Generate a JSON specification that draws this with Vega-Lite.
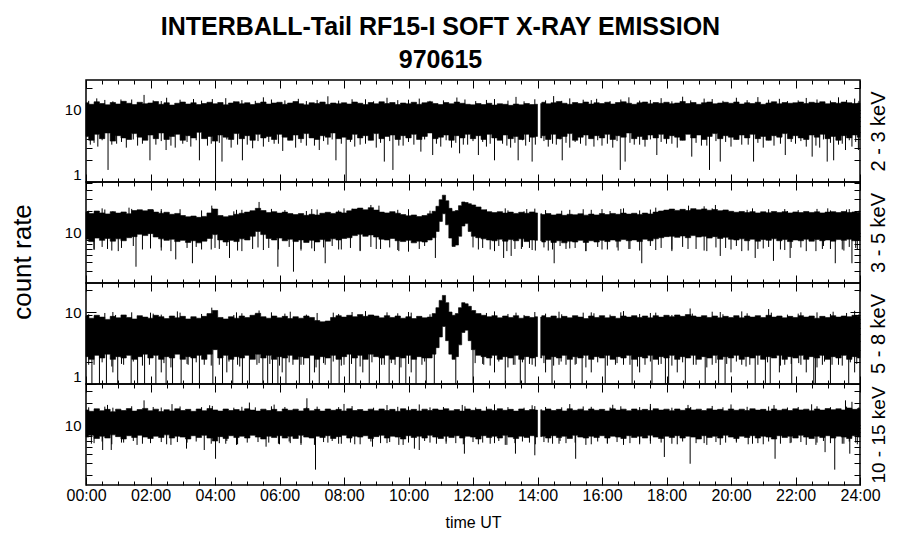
{
"$schema":"https://vega.github.io/schema/vega-lite/v6.json",
"background":"white",
"padding":{"left":8,"top":14,"right":5,"bottom":5},
"title":{"text":["INTERBALL-Tail RF15-I SOFT X-RAY EMISSION","970615"],"font":"Liberation Sans","fontSize":25,"fontWeight":"bold","lineHeight":33,"color":"black","anchor":"middle","offset":6,"dx":-8},
"spacing":0,
"bounds":"flush",
"resolve":{"scale":{"y":"independent"}},
"config":{"view":{"stroke":"black","strokeWidth":1.5},"axis":{"domain":false,"grid":false,"tickColor":"black","tickWidth":1,"labelColor":"black","titleColor":"black","labelFont":"Liberation Sans","titleFont":"Liberation Sans"}},
"datasets":{
"c1":[{"t":0,"h":12.6,"l":4.3,"g":1},{"t":10,"h":12.0,"l":3.8,"g":1},{"t":20,"h":13.0,"l":4.6,"g":1},{"t":30,"h":12.3,"l":4.0,"g":1},{"t":40,"h":11.8,"l":4.8,"g":1},{"t":50,"h":12.7,"l":3.7,"g":1},{"t":60,"h":12.1,"l":4.4,"g":1},{"t":70,"h":13.2,"l":4.1,"g":1},{"t":80,"h":12.4,"l":3.9,"g":1},{"t":90,"h":11.9,"l":4.7,"g":1},{"t":100,"h":12.8,"l":4.2,"g":1},{"t":110,"h":12.2,"l":3.8,"g":1},
{"t":120,"h":12.5,"l":4.5,"g":1},{"t":130,"h":13.1,"l":4.0,"g":1},{"t":140,"h":12.0,"l":4.8,"g":1},{"t":150,"h":12.6,"l":3.9,"g":1},{"t":160,"h":11.7,"l":4.3,"g":1},{"t":170,"h":12.4,"l":4.6,"g":1},{"t":180,"h":12.9,"l":3.8,"g":1},{"t":190,"h":12.1,"l":4.4,"g":1},{"t":200,"h":12.6,"l":4.1,"g":1},{"t":210,"h":11.9,"l":4.9,"g":1},{"t":220,"h":12.3,"l":4.0,"g":1},{"t":230,"h":12.8,"l":4.3,"g":1},
{"t":240,"h":12.2,"l":3.7,"g":1},{"t":250,"h":12.7,"l":4.5,"g":1},{"t":260,"h":11.8,"l":4.2,"g":1},{"t":270,"h":12.5,"l":3.9,"g":1},{"t":280,"h":13.0,"l":4.7,"g":1},{"t":290,"h":12.2,"l":4.0,"g":1},{"t":300,"h":12.6,"l":4.4,"g":1},{"t":310,"h":11.9,"l":3.8,"g":1},{"t":320,"h":12.4,"l":4.6,"g":1},{"t":330,"h":12.9,"l":4.1,"g":1},{"t":340,"h":12.1,"l":4.3,"g":1},{"t":350,"h":12.5,"l":3.9,"g":1},
{"t":360,"h":12.8,"l":4.6,"g":1},{"t":370,"h":12.0,"l":4.2,"g":1},{"t":380,"h":12.5,"l":3.8,"g":1},{"t":390,"h":13.1,"l":4.5,"g":1},{"t":400,"h":12.2,"l":4.0,"g":1},{"t":410,"h":11.8,"l":4.7,"g":1},{"t":420,"h":12.6,"l":4.1,"g":1},{"t":430,"h":12.3,"l":3.9,"g":1},{"t":440,"h":12.9,"l":4.4,"g":1},{"t":450,"h":12.0,"l":4.2,"g":1},{"t":460,"h":12.5,"l":4.8,"g":1},{"t":470,"h":12.2,"l":4.0,"g":1},
{"t":480,"h":12.6,"l":4.2,"g":1},{"t":490,"h":12.1,"l":3.9,"g":1},{"t":500,"h":12.9,"l":4.6,"g":1},{"t":510,"h":12.4,"l":4.1,"g":1},{"t":520,"h":11.9,"l":4.4,"g":1},{"t":530,"h":12.7,"l":3.8,"g":1},{"t":540,"h":12.2,"l":4.7,"g":1},{"t":550,"h":13.0,"l":4.0,"g":1},{"t":560,"h":12.3,"l":4.3,"g":1},{"t":570,"h":12.7,"l":4.5,"g":1},{"t":580,"h":11.9,"l":3.9,"g":1},{"t":590,"h":12.5,"l":4.4,"g":1},
{"t":600,"h":12.2,"l":4.1,"g":1},{"t":610,"h":12.8,"l":4.6,"g":1},{"t":620,"h":12.0,"l":3.9,"g":1},{"t":630,"h":12.6,"l":4.3,"g":1},{"t":640,"h":13.0,"l":4.8,"g":1},{"t":650,"h":12.3,"l":4.0,"g":1},{"t":660,"h":11.9,"l":4.2,"g":1},{"t":670,"h":12.7,"l":4.5,"g":1},{"t":680,"h":12.2,"l":3.8,"g":1},{"t":690,"h":12.9,"l":4.4,"g":1},{"t":700,"h":12.4,"l":4.1,"g":1},{"t":710,"h":12.0,"l":4.6,"g":1},
{"t":720,"h":11.8,"l":4.0,"g":1},{"t":730,"h":12.3,"l":4.4,"g":1},{"t":740,"h":11.9,"l":3.9,"g":1},{"t":750,"h":12.4,"l":4.6,"g":1},{"t":760,"h":11.7,"l":4.1,"g":1},{"t":770,"h":12.2,"l":3.8,"g":1},{"t":780,"h":12.0,"l":4.5,"g":1},{"t":790,"h":11.6,"l":4.0,"g":1},{"t":800,"h":12.1,"l":4.3,"g":1},{"t":810,"h":11.8,"l":3.9,"g":1},{"t":820,"h":12.3,"l":4.6,"g":1},{"t":830,"h":11.9,"l":4.2,"g":1},{"t":840,"h":12.0,"l":4.3,"g":1},
{"t":846,"h":12.3,"l":4.1,"g":2},{"t":850,"h":12.8,"l":4.4,"g":2},{"t":860,"h":12.2,"l":3.9,"g":2},{"t":870,"h":12.6,"l":4.6,"g":2},{"t":880,"h":13.1,"l":4.0,"g":2},{"t":890,"h":12.4,"l":4.3,"g":2},{"t":900,"h":12.0,"l":4.7,"g":2},{"t":910,"h":12.7,"l":3.8,"g":2},{"t":920,"h":12.3,"l":4.2,"g":2},{"t":930,"h":12.9,"l":4.5,"g":2},{"t":940,"h":12.1,"l":4.0,"g":2},{"t":950,"h":12.6,"l":4.4,"g":2},
{"t":960,"h":12.3,"l":4.1,"g":2},{"t":970,"h":12.8,"l":4.6,"g":2},{"t":980,"h":12.1,"l":3.9,"g":2},{"t":990,"h":12.7,"l":4.4,"g":2},{"t":1000,"h":13.0,"l":4.2,"g":2},{"t":1010,"h":12.4,"l":4.8,"g":2},{"t":1020,"h":12.0,"l":4.0,"g":2},{"t":1030,"h":12.6,"l":4.3,"g":2},{"t":1040,"h":12.9,"l":3.9,"g":2},{"t":1050,"h":12.2,"l":4.5,"g":2},{"t":1060,"h":12.7,"l":4.1,"g":2},{"t":1070,"h":12.4,"l":4.6,"g":2},
{"t":1080,"h":12.8,"l":4.0,"g":2},{"t":1090,"h":12.2,"l":4.4,"g":2},{"t":1100,"h":12.5,"l":4.2,"g":2},{"t":1110,"h":13.1,"l":3.8,"g":2},{"t":1120,"h":12.3,"l":4.6,"g":2},{"t":1130,"h":12.7,"l":4.1,"g":2},{"t":1140,"h":12.0,"l":4.5,"g":2},{"t":1150,"h":12.6,"l":3.9,"g":2},{"t":1160,"h":12.9,"l":4.3,"g":2},{"t":1170,"h":12.2,"l":4.7,"g":2},{"t":1180,"h":12.5,"l":4.0,"g":2},{"t":1190,"h":12.8,"l":4.4,"g":2},
{"t":1200,"h":12.4,"l":4.2,"g":2},{"t":1210,"h":12.9,"l":3.9,"g":2},{"t":1220,"h":12.1,"l":4.5,"g":2},{"t":1230,"h":12.6,"l":4.1,"g":2},{"t":1240,"h":12.3,"l":4.6,"g":2},{"t":1250,"h":12.8,"l":4.0,"g":2},{"t":1260,"h":12.0,"l":4.3,"g":2},{"t":1270,"h":12.5,"l":3.8,"g":2},{"t":1280,"h":13.0,"l":4.4,"g":2},{"t":1290,"h":12.2,"l":4.2,"g":2},{"t":1300,"h":12.7,"l":4.7,"g":2},{"t":1310,"h":12.4,"l":4.0,"g":2},
{"t":1320,"h":12.6,"l":4.4,"g":2},{"t":1330,"h":12.9,"l":4.1,"g":2},{"t":1340,"h":12.3,"l":3.9,"g":2},{"t":1350,"h":12.8,"l":4.5,"g":2},{"t":1360,"h":12.5,"l":4.2,"g":2},{"t":1370,"h":13.0,"l":4.6,"g":2},{"t":1380,"h":12.2,"l":4.0,"g":2},{"t":1390,"h":12.7,"l":4.3,"g":2},{"t":1400,"h":12.4,"l":3.8,"g":2},{"t":1410,"h":12.9,"l":4.4,"g":2},{"t":1420,"h":12.6,"l":4.1,"g":2},{"t":1430,"h":12.3,"l":4.5,"g":2},{"t":1440,"h":12.5,"l":4.2,"g":2}],
"c2":[{"t":0,"h":19.5,"l":8.2,"g":1},{"t":10,"h":18.6,"l":7.6,"g":1},{"t":20,"h":20.2,"l":8.5,"g":1},{"t":30,"h":19.0,"l":7.9,"g":1},{"t":40,"h":18.4,"l":8.4,"g":1},{"t":50,"h":19.8,"l":7.7,"g":1},{"t":60,"h":18.9,"l":8.3,"g":1},{"t":70,"h":19.6,"l":7.8,"g":1},{"t":80,"h":18.5,"l":8.6,"g":1},{"t":90,"h":20.5,"l":8.9,"g":1},{"t":100,"h":21.0,"l":9.6,"g":1},{"t":110,"h":20.3,"l":9.2,"g":1},
{"t":120,"h":21.2,"l":9.8,"g":1},{"t":130,"h":19.5,"l":8.8,"g":1},{"t":140,"h":18.8,"l":8.3,"g":1},{"t":150,"h":19.4,"l":7.9,"g":1},{"t":160,"h":18.2,"l":8.2,"g":1},{"t":170,"h":18.7,"l":7.6,"g":1},{"t":180,"h":17.5,"l":7.9,"g":1},{"t":190,"h":16.8,"l":7.4,"g":1},{"t":200,"h":17.2,"l":7.8,"g":1},{"t":210,"h":16.5,"l":7.3,"g":1},{"t":220,"h":17.0,"l":7.7,"g":1},{"t":230,"h":19.0,"l":8.4,"g":1},
{"t":240,"h":21.5,"l":9.5,"g":1},{"t":250,"h":17.5,"l":8.0,"g":1},{"t":260,"h":16.8,"l":7.5,"g":1},{"t":270,"h":17.4,"l":7.9,"g":1},{"t":280,"h":18.2,"l":7.6,"g":1},{"t":290,"h":18.8,"l":8.3,"g":1},{"t":300,"h":19.5,"l":8.0,"g":1},{"t":310,"h":20.4,"l":9.0,"g":1},{"t":320,"h":22.0,"l":10.5,"g":1},{"t":330,"h":20.5,"l":9.5,"g":1},{"t":340,"h":19.2,"l":8.4,"g":1},{"t":350,"h":19.8,"l":8.0,"g":1},
{"t":360,"h":18.9,"l":8.5,"g":1},{"t":370,"h":19.5,"l":7.8,"g":1},{"t":380,"h":18.6,"l":8.2,"g":1},{"t":390,"h":18.0,"l":7.6,"g":1},{"t":400,"h":18.6,"l":8.0,"g":1},{"t":410,"h":17.6,"l":7.4,"g":1},{"t":420,"h":18.2,"l":7.9,"g":1},{"t":430,"h":17.8,"l":7.5,"g":1},{"t":440,"h":18.8,"l":8.1,"g":1},{"t":450,"h":19.4,"l":7.7,"g":1},{"t":460,"h":18.7,"l":8.3,"g":1},{"t":470,"h":19.6,"l":8.0,"g":1},
{"t":480,"h":19.0,"l":8.4,"g":1},{"t":490,"h":20.3,"l":8.6,"g":1},{"t":500,"h":21.5,"l":9.2,"g":1},{"t":510,"h":22.2,"l":9.6,"g":1},{"t":520,"h":21.0,"l":9.0,"g":1},{"t":530,"h":22.5,"l":9.4,"g":1},{"t":540,"h":20.8,"l":8.8,"g":1},{"t":550,"h":19.5,"l":8.2,"g":1},{"t":560,"h":19.0,"l":8.0,"g":1},{"t":570,"h":19.8,"l":8.4,"g":1},{"t":580,"h":18.8,"l":7.8,"g":1},{"t":590,"h":18.0,"l":7.6,"g":1},
{"t":600,"h":17.3,"l":7.9,"g":1},{"t":610,"h":17.8,"l":7.3,"g":1},{"t":620,"h":16.9,"l":7.7,"g":1},{"t":630,"h":17.5,"l":7.5,"g":1},{"t":640,"h":18.5,"l":8.0,"g":1},{"t":648,"h":20.0,"l":8.6,"g":1},{"t":654,"h":23.5,"l":10.5,"g":1},{"t":660,"h":29.0,"l":14.5,"g":1},{"t":666,"h":33.5,"l":18.5,"g":1},{"t":672,"h":28.0,"l":13.0,"g":1},{"t":678,"h":22.0,"l":8.5,"g":1},{"t":684,"h":20.0,"l":6.5,"g":1},
{"t":690,"h":20.5,"l":6.8,"g":1},{"t":696,"h":24.0,"l":9.0,"g":1},{"t":702,"h":27.0,"l":12.5,"g":1},{"t":708,"h":26.5,"l":13.5,"g":1},{"t":714,"h":25.5,"l":10.5,"g":1},{"t":720,"h":24.5,"l":9.0,"g":1},{"t":730,"h":23.0,"l":8.6,"g":1},{"t":740,"h":21.0,"l":8.3,"g":1},{"t":750,"h":19.8,"l":8.0,"g":1},{"t":760,"h":19.2,"l":7.8,"g":1},{"t":770,"h":19.8,"l":8.2,"g":1},{"t":780,"h":18.9,"l":7.7,"g":1},
{"t":790,"h":19.5,"l":8.1,"g":1},{"t":800,"h":18.7,"l":7.8,"g":1},{"t":810,"h":19.4,"l":8.3,"g":1},{"t":820,"h":18.8,"l":7.6,"g":1},{"t":830,"h":19.6,"l":8.0,"g":1},{"t":840,"h":19.0,"l":7.9,"g":1},
{"t":846,"h":18.5,"l":7.8,"g":2},{"t":850,"h":18.0,"l":7.5,"g":2},{"t":860,"h":18.6,"l":7.9,"g":2},{"t":870,"h":17.8,"l":7.4,"g":2},{"t":880,"h":18.4,"l":7.8,"g":2},{"t":890,"h":17.6,"l":7.3,"g":2},{"t":900,"h":18.2,"l":7.7,"g":2},{"t":910,"h":17.9,"l":7.5,"g":2},{"t":920,"h":18.5,"l":7.9,"g":2},{"t":930,"h":17.7,"l":7.4,"g":2},{"t":940,"h":18.3,"l":7.8,"g":2},{"t":950,"h":17.8,"l":7.5,"g":2},
{"t":960,"h":18.6,"l":7.9,"g":2},{"t":970,"h":18.0,"l":7.6,"g":2},{"t":980,"h":18.7,"l":8.0,"g":2},{"t":990,"h":18.2,"l":7.7,"g":2},{"t":1000,"h":18.9,"l":8.1,"g":2},{"t":1010,"h":18.3,"l":7.8,"g":2},{"t":1020,"h":18.8,"l":8.0,"g":2},{"t":1030,"h":18.1,"l":7.6,"g":2},{"t":1040,"h":18.9,"l":8.2,"g":2},{"t":1050,"h":18.4,"l":7.8,"g":2},{"t":1060,"h":19.5,"l":8.3,"g":2},{"t":1070,"h":20.2,"l":8.6,"g":2},
{"t":1080,"h":20.8,"l":8.9,"g":2},{"t":1090,"h":21.5,"l":9.0,"g":2},{"t":1100,"h":20.6,"l":8.7,"g":2},{"t":1110,"h":21.3,"l":9.1,"g":2},{"t":1120,"h":20.5,"l":8.6,"g":2},{"t":1130,"h":21.8,"l":9.2,"g":2},{"t":1140,"h":21.0,"l":8.8,"g":2},{"t":1150,"h":21.6,"l":9.0,"g":2},{"t":1160,"h":20.7,"l":8.5,"g":2},{"t":1170,"h":21.2,"l":8.9,"g":2},{"t":1180,"h":20.4,"l":8.4,"g":2},{"t":1190,"h":20.9,"l":8.7,"g":2},
{"t":1200,"h":20.0,"l":8.2,"g":2},{"t":1210,"h":19.4,"l":8.0,"g":2},{"t":1220,"h":19.9,"l":8.3,"g":2},{"t":1230,"h":19.2,"l":7.8,"g":2},{"t":1240,"h":19.8,"l":8.2,"g":2},{"t":1250,"h":19.0,"l":7.7,"g":2},{"t":1260,"h":19.7,"l":8.1,"g":2},{"t":1270,"h":19.1,"l":7.9,"g":2},{"t":1280,"h":19.9,"l":8.3,"g":2},{"t":1290,"h":19.3,"l":7.8,"g":2},{"t":1300,"h":19.8,"l":8.1,"g":2},{"t":1310,"h":19.0,"l":7.6,"g":2},
{"t":1320,"h":19.6,"l":8.0,"g":2},{"t":1330,"h":19.2,"l":7.8,"g":2},{"t":1340,"h":19.9,"l":8.2,"g":2},{"t":1350,"h":19.3,"l":7.7,"g":2},{"t":1360,"h":19.7,"l":8.1,"g":2},{"t":1370,"h":19.0,"l":7.8,"g":2},{"t":1380,"h":19.5,"l":8.0,"g":2},{"t":1390,"h":19.8,"l":7.7,"g":2},{"t":1400,"h":19.2,"l":8.1,"g":2},{"t":1410,"h":19.9,"l":7.9,"g":2},{"t":1420,"h":19.3,"l":8.2,"g":2},{"t":1430,"h":19.6,"l":7.8,"g":2},{"t":1440,"h":19.2,"l":8.0,"g":2}],
"c3":[{"t":0,"h":8.8,"l":2.4,"g":1},{"t":10,"h":8.2,"l":2.2,"g":1},{"t":20,"h":9.0,"l":2.5,"g":1},{"t":30,"h":8.5,"l":2.3,"g":1},{"t":40,"h":7.9,"l":2.6,"g":1},{"t":50,"h":8.7,"l":2.2,"g":1},{"t":60,"h":8.3,"l":2.4,"g":1},{"t":70,"h":9.1,"l":2.3,"g":1},{"t":80,"h":8.4,"l":2.5,"g":1},{"t":90,"h":8.0,"l":2.2,"g":1},{"t":100,"h":8.9,"l":2.4,"g":1},{"t":110,"h":8.5,"l":2.6,"g":1},
{"t":120,"h":8.2,"l":2.3,"g":1},{"t":130,"h":9.0,"l":2.5,"g":1},{"t":140,"h":8.6,"l":2.2,"g":1},{"t":150,"h":8.1,"l":2.4,"g":1},{"t":160,"h":8.8,"l":2.3,"g":1},{"t":170,"h":8.3,"l":2.6,"g":1},{"t":180,"h":8.7,"l":2.2,"g":1},{"t":190,"h":8.0,"l":2.4,"g":1},{"t":200,"h":8.6,"l":2.3,"g":1},{"t":210,"h":8.2,"l":2.5,"g":1},{"t":220,"h":8.7,"l":2.2,"g":1},{"t":230,"h":9.5,"l":2.6,"g":1},
{"t":240,"h":10.5,"l":3.0,"g":1},{"t":250,"h":8.4,"l":2.3,"g":1},{"t":260,"h":8.0,"l":2.5,"g":1},{"t":270,"h":8.6,"l":2.2,"g":1},{"t":280,"h":8.2,"l":2.4,"g":1},{"t":290,"h":8.8,"l":2.3,"g":1},{"t":300,"h":8.4,"l":2.5,"g":1},{"t":310,"h":9.0,"l":2.2,"g":1},{"t":320,"h":9.6,"l":2.6,"g":1},{"t":330,"h":8.6,"l":2.3,"g":1},{"t":340,"h":8.2,"l":2.5,"g":1},{"t":350,"h":8.8,"l":2.2,"g":1},
{"t":360,"h":8.3,"l":2.4,"g":1},{"t":370,"h":8.7,"l":2.3,"g":1},{"t":380,"h":8.1,"l":2.5,"g":1},{"t":390,"h":8.6,"l":2.2,"g":1},{"t":400,"h":8.2,"l":2.4,"g":1},{"t":410,"h":8.8,"l":2.3,"g":1},{"t":420,"h":8.4,"l":2.5,"g":1},{"t":430,"h":7.6,"l":2.2,"g":1},{"t":440,"h":7.3,"l":2.4,"g":1},{"t":450,"h":7.5,"l":2.3,"g":1},{"t":460,"h":8.4,"l":2.5,"g":1},{"t":470,"h":8.9,"l":2.2,"g":1},
{"t":480,"h":8.5,"l":2.4,"g":1},{"t":490,"h":9.0,"l":2.6,"g":1},{"t":500,"h":8.6,"l":2.3,"g":1},{"t":510,"h":9.2,"l":2.5,"g":1},{"t":520,"h":8.7,"l":2.2,"g":1},{"t":530,"h":9.1,"l":2.6,"g":1},{"t":540,"h":8.8,"l":2.4,"g":1},{"t":550,"h":8.3,"l":2.3,"g":1},{"t":560,"h":8.9,"l":2.5,"g":1},{"t":570,"h":8.4,"l":2.2,"g":1},{"t":580,"h":8.8,"l":2.4,"g":1},{"t":590,"h":8.2,"l":2.3,"g":1},
{"t":600,"h":8.6,"l":2.5,"g":1},{"t":610,"h":8.1,"l":2.2,"g":1},{"t":620,"h":8.7,"l":2.4,"g":1},{"t":630,"h":8.3,"l":2.3,"g":1},{"t":640,"h":8.5,"l":2.3,"g":1},{"t":648,"h":9.5,"l":2.6,"g":1},{"t":654,"h":11.5,"l":3.2,"g":1},{"t":660,"h":14.5,"l":4.5,"g":1},{"t":666,"h":17.0,"l":6.3,"g":1},{"t":672,"h":13.5,"l":4.0,"g":1},{"t":678,"h":10.0,"l":2.6,"g":1},{"t":684,"h":9.0,"l":2.2,"g":1},
{"t":690,"h":9.5,"l":2.4,"g":1},{"t":696,"h":11.5,"l":3.5,"g":1},{"t":702,"h":13.5,"l":5.2,"g":1},{"t":708,"h":13.0,"l":5.6,"g":1},{"t":714,"h":12.0,"l":4.0,"g":1},{"t":720,"h":10.5,"l":3.0,"g":1},{"t":730,"h":9.5,"l":2.5,"g":1},{"t":740,"h":9.0,"l":2.4,"g":1},{"t":750,"h":8.6,"l":2.3,"g":1},{"t":760,"h":8.9,"l":2.5,"g":1},{"t":770,"h":8.3,"l":2.2,"g":1},{"t":780,"h":8.8,"l":2.4,"g":1},
{"t":790,"h":8.4,"l":2.3,"g":1},{"t":800,"h":8.9,"l":2.5,"g":1},{"t":810,"h":8.2,"l":2.2,"g":1},{"t":820,"h":8.7,"l":2.4,"g":1},{"t":830,"h":8.4,"l":2.3,"g":1},{"t":840,"h":8.6,"l":2.4,"g":1},
{"t":846,"h":8.5,"l":2.3,"g":2},{"t":850,"h":8.9,"l":2.5,"g":2},{"t":860,"h":8.4,"l":2.2,"g":2},{"t":870,"h":8.8,"l":2.4,"g":2},{"t":880,"h":8.2,"l":2.3,"g":2},{"t":890,"h":8.7,"l":2.5,"g":2},{"t":900,"h":8.3,"l":2.2,"g":2},{"t":910,"h":8.9,"l":2.4,"g":2},{"t":920,"h":8.5,"l":2.3,"g":2},{"t":930,"h":8.1,"l":2.5,"g":2},{"t":940,"h":8.8,"l":2.2,"g":2},{"t":950,"h":8.4,"l":2.4,"g":2},
{"t":960,"h":8.9,"l":2.3,"g":2},{"t":970,"h":8.3,"l":2.5,"g":2},{"t":980,"h":8.7,"l":2.2,"g":2},{"t":990,"h":8.2,"l":2.4,"g":2},{"t":1000,"h":8.8,"l":2.3,"g":2},{"t":1010,"h":8.5,"l":2.5,"g":2},{"t":1020,"h":8.9,"l":2.2,"g":2},{"t":1030,"h":8.4,"l":2.4,"g":2},{"t":1040,"h":8.8,"l":2.3,"g":2},{"t":1050,"h":8.3,"l":2.5,"g":2},{"t":1060,"h":8.9,"l":2.2,"g":2},{"t":1070,"h":8.5,"l":2.4,"g":2},
{"t":1080,"h":9.0,"l":2.3,"g":2},{"t":1090,"h":8.6,"l":2.5,"g":2},{"t":1100,"h":9.1,"l":2.2,"g":2},{"t":1110,"h":8.7,"l":2.4,"g":2},{"t":1120,"h":9.2,"l":2.3,"g":2},{"t":1130,"h":8.8,"l":2.5,"g":2},{"t":1140,"h":8.5,"l":2.2,"g":2},{"t":1150,"h":8.9,"l":2.4,"g":2},{"t":1160,"h":8.4,"l":2.3,"g":2},{"t":1170,"h":8.8,"l":2.5,"g":2},{"t":1180,"h":8.3,"l":2.2,"g":2},{"t":1190,"h":8.7,"l":2.4,"g":2},
{"t":1200,"h":8.4,"l":2.3,"g":2},{"t":1210,"h":8.9,"l":2.5,"g":2},{"t":1220,"h":8.3,"l":2.2,"g":2},{"t":1230,"h":8.8,"l":2.4,"g":2},{"t":1240,"h":8.5,"l":2.3,"g":2},{"t":1250,"h":8.9,"l":2.5,"g":2},{"t":1260,"h":8.4,"l":2.2,"g":2},{"t":1270,"h":9.0,"l":2.4,"g":2},{"t":1280,"h":8.5,"l":2.3,"g":2},{"t":1290,"h":8.8,"l":2.5,"g":2},{"t":1300,"h":8.3,"l":2.2,"g":2},{"t":1310,"h":8.7,"l":2.4,"g":2},
{"t":1320,"h":8.4,"l":2.3,"g":2},{"t":1330,"h":8.9,"l":2.5,"g":2},{"t":1340,"h":8.5,"l":2.2,"g":2},{"t":1350,"h":8.8,"l":2.4,"g":2},{"t":1360,"h":8.2,"l":2.3,"g":2},{"t":1370,"h":8.7,"l":2.5,"g":2},{"t":1380,"h":8.4,"l":2.2,"g":2},{"t":1390,"h":8.9,"l":2.4,"g":2},{"t":1400,"h":8.5,"l":2.3,"g":2},{"t":1410,"h":8.8,"l":2.5,"g":2},{"t":1420,"h":8.6,"l":2.2,"g":2},{"t":1430,"h":9.0,"l":2.4,"g":2},{"t":1440,"h":8.7,"l":2.3,"g":2}],
"c4":[{"t":0,"h":16.2,"l":6.8,"g":1},{"t":10,"h":15.5,"l":7.2,"g":1},{"t":20,"h":16.8,"l":6.5,"g":1},{"t":30,"h":15.8,"l":7.0,"g":1},{"t":40,"h":16.5,"l":6.6,"g":1},{"t":50,"h":15.3,"l":7.3,"g":1},{"t":60,"h":16.6,"l":6.9,"g":1},{"t":70,"h":15.9,"l":6.4,"g":1},{"t":80,"h":16.9,"l":7.1,"g":1},{"t":90,"h":15.6,"l":6.7,"g":1},{"t":100,"h":16.4,"l":7.2,"g":1},{"t":110,"h":17.0,"l":6.8,"g":1},
{"t":120,"h":15.8,"l":6.5,"g":1},{"t":130,"h":16.6,"l":7.0,"g":1},{"t":140,"h":15.4,"l":6.7,"g":1},{"t":150,"h":16.3,"l":7.3,"g":1},{"t":160,"h":15.7,"l":6.6,"g":1},{"t":170,"h":16.8,"l":7.0,"g":1},{"t":180,"h":15.9,"l":6.8,"g":1},{"t":190,"h":16.5,"l":6.4,"g":1},{"t":200,"h":15.5,"l":7.1,"g":1},{"t":210,"h":16.7,"l":6.7,"g":1},{"t":220,"h":15.8,"l":7.2,"g":1},{"t":230,"h":16.9,"l":6.6,"g":1},
{"t":240,"h":16.2,"l":6.0,"g":1},{"t":250,"h":15.6,"l":6.9,"g":1},{"t":260,"h":16.7,"l":6.5,"g":1},{"t":270,"h":15.9,"l":7.1,"g":1},{"t":280,"h":16.4,"l":6.7,"g":1},{"t":290,"h":15.7,"l":7.0,"g":1},{"t":300,"h":16.8,"l":6.6,"g":1},{"t":310,"h":16.1,"l":7.2,"g":1},{"t":320,"h":15.6,"l":6.8,"g":1},{"t":330,"h":16.6,"l":6.4,"g":1},{"t":340,"h":15.9,"l":7.0,"g":1},{"t":350,"h":16.5,"l":6.7,"g":1},
{"t":360,"h":15.4,"l":7.1,"g":1},{"t":370,"h":16.7,"l":6.6,"g":1},{"t":380,"h":16.0,"l":7.0,"g":1},{"t":390,"h":16.6,"l":6.5,"g":1},{"t":400,"h":15.7,"l":7.2,"g":1},{"t":410,"h":16.9,"l":6.8,"g":1},{"t":420,"h":15.8,"l":6.6,"g":1},{"t":430,"h":16.5,"l":7.0,"g":1},{"t":440,"h":15.6,"l":6.7,"g":1},{"t":450,"h":16.7,"l":7.1,"g":1},{"t":460,"h":16.0,"l":6.5,"g":1},{"t":470,"h":16.5,"l":6.9,"g":1},
{"t":480,"h":15.7,"l":7.2,"g":1},{"t":490,"h":16.8,"l":6.6,"g":1},{"t":500,"h":15.9,"l":7.0,"g":1},{"t":510,"h":16.4,"l":6.8,"g":1},{"t":520,"h":15.6,"l":7.1,"g":1},{"t":530,"h":16.6,"l":6.5,"g":1},{"t":540,"h":15.8,"l":6.9,"g":1},{"t":550,"h":16.7,"l":7.2,"g":1},{"t":560,"h":15.9,"l":6.6,"g":1},{"t":570,"h":16.5,"l":7.0,"g":1},{"t":580,"h":15.5,"l":6.8,"g":1},{"t":590,"h":16.8,"l":6.4,"g":1},
{"t":600,"h":16.0,"l":7.1,"g":1},{"t":610,"h":16.5,"l":6.7,"g":1},{"t":620,"h":15.7,"l":7.0,"g":1},{"t":630,"h":16.6,"l":6.6,"g":1},{"t":640,"h":15.9,"l":7.2,"g":1},{"t":650,"h":16.7,"l":6.8,"g":1},{"t":660,"h":16.1,"l":6.5,"g":1},{"t":670,"h":16.8,"l":7.0,"g":1},{"t":680,"h":15.8,"l":6.7,"g":1},{"t":690,"h":16.4,"l":7.1,"g":1},{"t":700,"h":15.6,"l":6.6,"g":1},{"t":710,"h":16.7,"l":7.0,"g":1},
{"t":720,"h":16.0,"l":6.8,"g":1},{"t":730,"h":16.5,"l":6.4,"g":1},{"t":740,"h":15.7,"l":7.1,"g":1},{"t":750,"h":16.6,"l":6.7,"g":1},{"t":760,"h":15.9,"l":7.0,"g":1},{"t":770,"h":16.8,"l":6.6,"g":1},{"t":780,"h":16.0,"l":7.2,"g":1},{"t":790,"h":16.5,"l":6.8,"g":1},{"t":800,"h":15.6,"l":6.5,"g":1},{"t":810,"h":16.7,"l":7.0,"g":1},{"t":820,"h":15.9,"l":6.7,"g":1},{"t":830,"h":16.4,"l":7.1,"g":1},{"t":840,"h":16.1,"l":6.8,"g":1},
{"t":846,"h":16.3,"l":6.9,"g":2},{"t":850,"h":15.8,"l":7.0,"g":2},{"t":860,"h":16.7,"l":6.6,"g":2},{"t":870,"h":15.9,"l":7.1,"g":2},{"t":880,"h":16.5,"l":6.7,"g":2},{"t":890,"h":15.7,"l":7.0,"g":2},{"t":900,"h":16.8,"l":6.5,"g":2},{"t":910,"h":16.0,"l":7.2,"g":2},{"t":920,"h":16.6,"l":6.8,"g":2},{"t":930,"h":15.8,"l":6.6,"g":2},{"t":940,"h":16.7,"l":7.0,"g":2},{"t":950,"h":16.0,"l":6.7,"g":2},
{"t":960,"h":16.5,"l":7.1,"g":2},{"t":970,"h":15.7,"l":6.6,"g":2},{"t":980,"h":16.8,"l":7.0,"g":2},{"t":990,"h":16.1,"l":6.8,"g":2},{"t":1000,"h":16.6,"l":6.5,"g":2},{"t":1010,"h":15.8,"l":7.1,"g":2},{"t":1020,"h":16.7,"l":6.7,"g":2},{"t":1030,"h":16.0,"l":7.0,"g":2},{"t":1040,"h":16.5,"l":6.6,"g":2},{"t":1050,"h":15.9,"l":7.2,"g":2},{"t":1060,"h":16.8,"l":6.8,"g":2},{"t":1070,"h":16.1,"l":6.5,"g":2},
{"t":1080,"h":16.6,"l":7.0,"g":2},{"t":1090,"h":15.8,"l":6.7,"g":2},{"t":1100,"h":16.7,"l":7.1,"g":2},{"t":1110,"h":16.0,"l":6.6,"g":2},{"t":1120,"h":16.9,"l":7.0,"g":2},{"t":1130,"h":16.2,"l":6.8,"g":2},{"t":1140,"h":16.6,"l":6.4,"g":2},{"t":1150,"h":15.9,"l":7.1,"g":2},{"t":1160,"h":16.8,"l":6.7,"g":2},{"t":1170,"h":16.1,"l":7.0,"g":2},{"t":1180,"h":16.5,"l":6.6,"g":2},{"t":1190,"h":15.8,"l":7.2,"g":2},
{"t":1200,"h":16.7,"l":6.8,"g":2},{"t":1210,"h":16.0,"l":6.5,"g":2},{"t":1220,"h":16.6,"l":7.0,"g":2},{"t":1230,"h":15.9,"l":6.7,"g":2},{"t":1240,"h":16.8,"l":7.1,"g":2},{"t":1250,"h":16.1,"l":6.6,"g":2},{"t":1260,"h":16.5,"l":7.0,"g":2},{"t":1270,"h":15.7,"l":6.8,"g":2},{"t":1280,"h":16.7,"l":6.4,"g":2},{"t":1290,"h":16.0,"l":7.1,"g":2},{"t":1300,"h":16.6,"l":6.7,"g":2},{"t":1310,"h":15.9,"l":7.0,"g":2},
{"t":1320,"h":16.8,"l":6.6,"g":2},{"t":1330,"h":16.2,"l":7.2,"g":2},{"t":1340,"h":16.6,"l":6.8,"g":2},{"t":1350,"h":15.8,"l":6.5,"g":2},{"t":1360,"h":16.7,"l":7.0,"g":2},{"t":1370,"h":16.1,"l":6.7,"g":2},{"t":1380,"h":16.9,"l":7.1,"g":2},{"t":1390,"h":16.3,"l":6.6,"g":2},{"t":1400,"h":16.8,"l":7.0,"g":2},{"t":1410,"h":16.2,"l":6.8,"g":2},{"t":1420,"h":17.2,"l":6.5,"g":2},{"t":1430,"h":16.5,"l":7.1,"g":2},{"t":1440,"h":16.9,"l":6.8,"g":2}],
"s1":[{"t":41,"a":5.5,"b":1.47},{"t":119,"a":5.5,"b":2.0},{"t":149,"a":5.5,"b":2.78},{"t":211,"a":5.5,"b":2.0},{"t":241,"a":5.5,"b":0.9},{"t":253,"a":5.5,"b":1.92},{"t":291,"a":5.5,"b":2.0},{"t":310,"a":5.5,"b":2.94},{"t":366,"a":5.5,"b":2.7},{"t":434,"a":5.5,"b":2.78},{"t":465,"a":5.5,"b":2.0},{"t":484,"a":5.5,"b":0.9},{"t":555,"a":5.5,"b":1.92},{"t":571,"a":5.5,"b":1.47},{"t":623,"a":5.5,"b":2.64},{"t":645,"a":5.5,"b":2.37},{"t":695,"a":5.5,"b":2.5},{"t":730,"a":5.5,"b":2.37},{"t":760,"a":5.5,"b":2.0},{"t":804,"a":5.5,"b":2.0},{"t":830,"a":5.5,"b":1.92},{"t":886,"a":5.5,"b":2.0},{"t":994,"a":5.5,"b":1.47},{"t":1003,"a":5.5,"b":1.92},{"t":1062,"a":5.5,"b":2.37},{"t":1127,"a":5.5,"b":2.25},{"t":1160,"a":5.5,"b":1.47},{"t":1180,"a":5.5,"b":1.92},{"t":1242,"a":5.5,"b":1.92},{"t":1301,"a":5.5,"b":2.37},{"t":1351,"a":5.5,"b":2.25},{"t":1379,"a":5.5,"b":1.92},{"t":1391,"a":5.5,"b":2.0},{"t":1413,"a":5.5,"b":2.78},{"t":1437,"a":5.5,"b":2.78},
{"t":8,"a":5.5,"b":3.3},{"t":22,"a":5.5,"b":3.1},{"t":57,"a":5.5,"b":3.4},{"t":75,"a":5.5,"b":3.0},{"t":96,"a":5.5,"b":3.2},{"t":130,"a":5.5,"b":3.3},{"t":166,"a":5.5,"b":3.0},{"t":180,"a":5.5,"b":3.4},{"t":195,"a":5.5,"b":3.1},{"t":226,"a":5.5,"b":3.2},{"t":270,"a":5.5,"b":3.0},{"t":300,"a":5.5,"b":3.3},{"t":330,"a":5.5,"b":3.1},{"t":350,"a":5.5,"b":3.4},{"t":390,"a":5.5,"b":3.0},{"t":410,"a":5.5,"b":3.2},{"t":450,"a":5.5,"b":3.3},{"t":500,"a":5.5,"b":3.1},{"t":520,"a":5.5,"b":3.4},{"t":540,"a":5.5,"b":3.0},{"t":590,"a":5.5,"b":3.2},{"t":610,"a":5.5,"b":3.3},{"t":660,"a":5.5,"b":3.1},{"t":680,"a":5.5,"b":3.0},{"t":710,"a":5.5,"b":3.3},{"t":745,"a":5.5,"b":3.1},{"t":775,"a":5.5,"b":3.4},{"t":790,"a":5.5,"b":3.0},{"t":818,"a":5.5,"b":3.2},{"t":860,"a":5.5,"b":3.1},{"t":875,"a":5.5,"b":3.3},{"t":900,"a":5.5,"b":3.0},{"t":920,"a":5.5,"b":3.4},{"t":945,"a":5.5,"b":3.1},{"t":960,"a":5.5,"b":3.2},{"t":980,"a":5.5,"b":3.0},{"t":1020,"a":5.5,"b":3.3},{"t":1040,"a":5.5,"b":3.1},{"t":1080,"a":5.5,"b":3.4},{"t":1100,"a":5.5,"b":3.0},{"t":1145,"a":5.5,"b":3.2},{"t":1200,"a":5.5,"b":3.1},{"t":1220,"a":5.5,"b":3.3},{"t":1260,"a":5.5,"b":3.0},{"t":1280,"a":5.5,"b":3.2},{"t":1320,"a":5.5,"b":3.4},{"t":1340,"a":5.5,"b":3.1},{"t":1365,"a":5.5,"b":3.0},{"t":1400,"a":5.5,"b":3.3},{"t":1425,"a":5.5,"b":3.1},
{"t":15,"a":5.5,"b":3.5},{"t":30,"a":5.5,"b":3.8},{"t":48,"a":5.5,"b":3.3},{"t":66,"a":5.5,"b":3.6},{"t":88,"a":5.5,"b":3.9},{"t":105,"a":5.5,"b":3.4},{"t":140,"a":5.5,"b":3.7},{"t":158,"a":5.5,"b":3.2},{"t":188,"a":5.5,"b":3.6},{"t":205,"a":5.5,"b":3.8},{"t":233,"a":5.5,"b":3.4},{"t":248,"a":5.5,"b":3.5},{"t":262,"a":5.5,"b":3.9},{"t":282,"a":5.5,"b":3.3},{"t":320,"a":5.5,"b":3.7},{"t":340,"a":5.5,"b":3.6},{"t":358,"a":5.5,"b":3.4},{"t":378,"a":5.5,"b":3.8},{"t":400,"a":5.5,"b":3.5},{"t":425,"a":5.5,"b":3.2},{"t":442,"a":5.5,"b":3.7},{"t":458,"a":5.5,"b":3.9},{"t":475,"a":5.5,"b":3.4},{"t":492,"a":5.5,"b":3.6},{"t":510,"a":5.5,"b":3.3},{"t":530,"a":5.5,"b":3.8},{"t":548,"a":5.5,"b":3.5},{"t":565,"a":5.5,"b":3.7},{"t":582,"a":5.5,"b":3.2},{"t":600,"a":5.5,"b":3.6},{"t":630,"a":5.5,"b":3.9},{"t":652,"a":5.5,"b":3.4},{"t":670,"a":5.5,"b":3.8},{"t":688,"a":5.5,"b":3.5},{"t":702,"a":5.5,"b":3.3},{"t":720,"a":5.5,"b":3.7},{"t":738,"a":5.5,"b":3.6},{"t":752,"a":5.5,"b":3.4},{"t":768,"a":5.5,"b":3.9},{"t":783,"a":5.5,"b":3.2},{"t":798,"a":5.5,"b":3.5},{"t":812,"a":5.5,"b":3.8},{"t":825,"a":5.5,"b":3.6},{"t":836,"a":5.5,"b":3.3},{"t":852,"a":5.5,"b":3.7},{"t":868,"a":5.5,"b":3.4},{"t":882,"a":5.5,"b":3.9},{"t":893,"a":5.5,"b":3.5},{"t":910,"a":5.5,"b":3.6},{"t":930,"a":5.5,"b":3.2},{"t":952,"a":5.5,"b":3.8},{"t":970,"a":5.5,"b":3.4},{"t":988,"a":5.5,"b":3.7},{"t":1012,"a":5.5,"b":3.5},{"t":1030,"a":5.5,"b":3.3},{"t":1050,"a":5.5,"b":3.9},{"t":1070,"a":5.5,"b":3.6},{"t":1090,"a":5.5,"b":3.4},{"t":1110,"a":5.5,"b":3.8},{"t":1135,"a":5.5,"b":3.5},{"t":1155,"a":5.5,"b":3.2},{"t":1172,"a":5.5,"b":3.7},{"t":1190,"a":5.5,"b":3.6},{"t":1210,"a":5.5,"b":3.9},{"t":1232,"a":5.5,"b":3.3},{"t":1250,"a":5.5,"b":3.5},{"t":1270,"a":5.5,"b":3.8},{"t":1292,"a":5.5,"b":3.4},{"t":1312,"a":5.5,"b":3.6},{"t":1330,"a":5.5,"b":3.7},{"t":1358,"a":5.5,"b":3.2},{"t":1372,"a":5.5,"b":3.9},{"t":1385,"a":5.5,"b":3.5},{"t":1407,"a":5.5,"b":3.4},{"t":1420,"a":5.5,"b":3.8},{"t":1432,"a":5.5,"b":3.6},
{"t":20,"a":11,"b":14.5},{"t":65,"a":11,"b":14.0},{"t":108,"a":11,"b":16.2},{"t":150,"a":11,"b":14.8},{"t":200,"a":11,"b":14.2},{"t":260,"a":11,"b":14.6},{"t":330,"a":11,"b":15.0},{"t":395,"a":11,"b":14.3},{"t":450,"a":11,"b":15.5},{"t":520,"a":11,"b":14.1},{"t":560,"a":11,"b":14.8},{"t":620,"a":11,"b":14.4},{"t":690,"a":11,"b":14.9},{"t":760,"a":11,"b":14.2},{"t":800,"a":11,"b":15.2},{"t":870,"a":11,"b":15.6},{"t":900,"a":11,"b":14.5},{"t":950,"a":11,"b":14.3},{"t":1010,"a":11,"b":15.0},{"t":1070,"a":11,"b":14.6},{"t":1110,"a":11,"b":15.3},{"t":1150,"a":11,"b":14.4},{"t":1210,"a":11,"b":14.8},{"t":1250,"a":11,"b":15.1},{"t":1290,"a":11,"b":14.3},{"t":1340,"a":11,"b":14.7},{"t":1400,"a":11,"b":15.0},{"t":1430,"a":11,"b":14.4},
{"t":5,"a":11,"b":13.4},{"t":35,"a":11,"b":13.8},{"t":50,"a":11,"b":13.2},{"t":85,"a":11,"b":14.0},{"t":125,"a":11,"b":13.6},{"t":140,"a":11,"b":13.3},{"t":175,"a":11,"b":13.9},{"t":215,"a":11,"b":13.5},{"t":235,"a":11,"b":14.2},{"t":275,"a":11,"b":13.2},{"t":290,"a":11,"b":13.7},{"t":315,"a":11,"b":13.4},{"t":345,"a":11,"b":14.0},{"t":370,"a":11,"b":13.6},{"t":410,"a":11,"b":13.3},{"t":430,"a":11,"b":13.8},{"t":470,"a":11,"b":13.5},{"t":495,"a":11,"b":14.1},{"t":535,"a":11,"b":13.2},{"t":580,"a":11,"b":13.7},{"t":600,"a":11,"b":13.9},{"t":640,"a":11,"b":13.4},{"t":665,"a":11,"b":13.6},{"t":705,"a":11,"b":14.0},{"t":725,"a":11,"b":13.3},{"t":745,"a":11,"b":13.8},{"t":785,"a":11,"b":13.5},{"t":815,"a":11,"b":13.2},{"t":835,"a":11,"b":14.1},{"t":855,"a":11,"b":13.6},{"t":885,"a":11,"b":13.4},{"t":925,"a":11,"b":13.9},{"t":940,"a":11,"b":13.7},{"t":975,"a":11,"b":13.3},{"t":995,"a":11,"b":14.0},{"t":1030,"a":11,"b":13.5},{"t":1050,"a":11,"b":13.8},{"t":1090,"a":11,"b":13.2},{"t":1125,"a":11,"b":13.6},{"t":1165,"a":11,"b":14.2},{"t":1185,"a":11,"b":13.4},{"t":1230,"a":11,"b":13.7},{"t":1270,"a":11,"b":13.9},{"t":1305,"a":11,"b":13.3},{"t":1325,"a":11,"b":13.6},{"t":1360,"a":11,"b":14.0},{"t":1385,"a":11,"b":13.5},{"t":1415,"a":11,"b":13.8},{"t":1438,"a":11,"b":13.4}],
"s2":[{"t":93,"a":11,"b":3.4},{"t":167,"a":11,"b":4.3},{"t":198,"a":11,"b":3.8},{"t":267,"a":11,"b":4.5},{"t":357,"a":11,"b":3.4},{"t":386,"a":11,"b":2.9},{"t":445,"a":11,"b":3.8},{"t":650,"a":11,"b":4.5},{"t":777,"a":11,"b":4.5},{"t":791,"a":11,"b":4.8},{"t":871,"a":11,"b":3.8},{"t":1034,"a":11,"b":3.8},{"t":1180,"a":11,"b":4.8},{"t":1245,"a":11,"b":4.5},{"t":1279,"a":11,"b":4.1},{"t":1310,"a":11,"b":4.5},{"t":1394,"a":11,"b":3.8},{"t":1425,"a":11,"b":3.8},
{"t":15,"a":11,"b":5.8},{"t":40,"a":11,"b":6.0},{"t":60,"a":11,"b":5.6},{"t":120,"a":11,"b":6.1},{"t":140,"a":11,"b":5.7},{"t":215,"a":11,"b":5.9},{"t":240,"a":11,"b":6.2},{"t":290,"a":11,"b":5.6},{"t":310,"a":11,"b":6.0},{"t":330,"a":11,"b":5.8},{"t":400,"a":11,"b":5.7},{"t":420,"a":11,"b":6.1},{"t":470,"a":11,"b":5.9},{"t":510,"a":11,"b":5.6},{"t":540,"a":11,"b":6.0},{"t":580,"a":11,"b":5.8},{"t":600,"a":11,"b":5.5},{"t":620,"a":11,"b":6.0},{"t":730,"a":11,"b":5.9},{"t":760,"a":11,"b":5.6},{"t":810,"a":11,"b":6.0},{"t":830,"a":11,"b":5.8},{"t":860,"a":11,"b":5.7},{"t":900,"a":11,"b":6.1},{"t":930,"a":11,"b":5.6},{"t":960,"a":11,"b":5.9},{"t":990,"a":11,"b":5.7},{"t":1010,"a":11,"b":6.0},{"t":1060,"a":11,"b":5.8},{"t":1090,"a":11,"b":5.6},{"t":1120,"a":11,"b":6.0},{"t":1150,"a":11,"b":5.7},{"t":1200,"a":11,"b":5.9},{"t":1220,"a":11,"b":5.6},{"t":1260,"a":11,"b":6.1},{"t":1300,"a":11,"b":5.8},{"t":1340,"a":11,"b":5.6},{"t":1370,"a":11,"b":6.0},{"t":1410,"a":11,"b":5.7},{"t":1435,"a":11,"b":5.9},
{"t":15,"a":11,"b":6.0},{"t":30,"a":11,"b":6.4},{"t":48,"a":11,"b":5.7},{"t":66,"a":11,"b":6.2},{"t":88,"a":11,"b":6.6},{"t":105,"a":11,"b":5.9},{"t":140,"a":11,"b":6.3},{"t":158,"a":11,"b":5.6},{"t":188,"a":11,"b":6.2},{"t":205,"a":11,"b":6.4},{"t":233,"a":11,"b":5.9},{"t":248,"a":11,"b":6.0},{"t":262,"a":11,"b":6.6},{"t":282,"a":11,"b":5.7},{"t":320,"a":11,"b":6.3},{"t":340,"a":11,"b":6.2},{"t":358,"a":11,"b":5.9},{"t":378,"a":11,"b":6.4},{"t":400,"a":11,"b":6.0},{"t":425,"a":11,"b":5.6},{"t":442,"a":11,"b":6.3},{"t":458,"a":11,"b":6.6},{"t":475,"a":11,"b":5.9},{"t":492,"a":11,"b":6.2},{"t":510,"a":11,"b":5.7},{"t":530,"a":11,"b":6.4},{"t":548,"a":11,"b":6.0},{"t":565,"a":11,"b":6.3},{"t":582,"a":11,"b":5.6},{"t":600,"a":11,"b":6.2},{"t":630,"a":11,"b":6.6},{"t":720,"a":11,"b":6.3},{"t":738,"a":11,"b":6.2},{"t":752,"a":11,"b":5.9},{"t":768,"a":11,"b":6.6},{"t":783,"a":11,"b":5.6},{"t":798,"a":11,"b":6.0},{"t":812,"a":11,"b":6.4},{"t":825,"a":11,"b":6.2},{"t":836,"a":11,"b":5.7},{"t":852,"a":11,"b":6.3},{"t":868,"a":11,"b":5.9},{"t":882,"a":11,"b":6.6},{"t":893,"a":11,"b":6.0},{"t":910,"a":11,"b":6.2},{"t":930,"a":11,"b":5.6},{"t":952,"a":11,"b":6.4},{"t":970,"a":11,"b":5.9},{"t":988,"a":11,"b":6.3},{"t":1012,"a":11,"b":6.0},{"t":1030,"a":11,"b":5.7},{"t":1050,"a":11,"b":6.6},{"t":1070,"a":11,"b":6.2},{"t":1090,"a":11,"b":5.9},{"t":1110,"a":11,"b":6.4},{"t":1135,"a":11,"b":6.0},{"t":1155,"a":11,"b":5.6},{"t":1172,"a":11,"b":6.3},{"t":1190,"a":11,"b":6.2},{"t":1210,"a":11,"b":6.6},{"t":1232,"a":11,"b":5.7},{"t":1250,"a":11,"b":6.0},{"t":1270,"a":11,"b":6.4},{"t":1292,"a":11,"b":5.9},{"t":1312,"a":11,"b":6.2},{"t":1330,"a":11,"b":6.3},{"t":1358,"a":11,"b":5.6},{"t":1372,"a":11,"b":6.6},{"t":1385,"a":11,"b":6.0},{"t":1407,"a":11,"b":5.9},{"t":1420,"a":11,"b":6.4},{"t":1432,"a":11,"b":6.2},
{"t":234,"a":16,"b":24},{"t":322,"a":16,"b":27},{"t":530,"a":16,"b":24.5},{"t":545,"a":16,"b":24},{"t":1121,"a":16,"b":24},{"t":1150,"a":16,"b":23.5},{"t":1171,"a":16,"b":24.5},{"t":30,"a":16,"b":22},{"t":80,"a":16,"b":22.5},{"t":140,"a":16,"b":21.5},{"t":280,"a":16,"b":21},{"t":420,"a":16,"b":21.5},{"t":480,"a":16,"b":22},{"t":600,"a":16,"b":21},{"t":780,"a":16,"b":22},{"t":820,"a":16,"b":21.5},{"t":900,"a":16,"b":21},{"t":960,"a":16,"b":21.5},{"t":1000,"a":16,"b":22},{"t":1060,"a":16,"b":22.5},{"t":1240,"a":16,"b":22},{"t":1300,"a":16,"b":21.5},{"t":1380,"a":16,"b":22},{"t":1420,"a":16,"b":21.5},
{"t":5,"a":16,"b":20.4},{"t":35,"a":16,"b":21.2},{"t":50,"a":16,"b":20.0},{"t":85,"a":16,"b":21.6},{"t":125,"a":16,"b":20.8},{"t":140,"a":16,"b":20.2},{"t":175,"a":16,"b":21.4},{"t":215,"a":16,"b":20.6},{"t":235,"a":16,"b":22.0},{"t":275,"a":16,"b":20.0},{"t":290,"a":16,"b":21.0},{"t":315,"a":16,"b":20.4},{"t":345,"a":16,"b":21.6},{"t":370,"a":16,"b":20.8},{"t":410,"a":16,"b":20.2},{"t":430,"a":16,"b":21.2},{"t":470,"a":16,"b":20.6},{"t":495,"a":16,"b":21.8},{"t":535,"a":16,"b":20.0},{"t":580,"a":16,"b":21.0},{"t":600,"a":16,"b":21.4},{"t":640,"a":16,"b":20.4},{"t":725,"a":16,"b":20.2},{"t":745,"a":16,"b":21.2},{"t":785,"a":16,"b":20.6},{"t":815,"a":16,"b":20.0},{"t":835,"a":16,"b":21.8},{"t":855,"a":16,"b":20.8},{"t":885,"a":16,"b":20.4},{"t":925,"a":16,"b":21.4},{"t":940,"a":16,"b":21.0},{"t":975,"a":16,"b":20.2},{"t":995,"a":16,"b":21.6},{"t":1030,"a":16,"b":20.6},{"t":1050,"a":16,"b":21.2},{"t":1090,"a":16,"b":20.0},{"t":1125,"a":16,"b":20.8},{"t":1165,"a":16,"b":22.0},{"t":1185,"a":16,"b":20.4},{"t":1230,"a":16,"b":21.0},{"t":1270,"a":16,"b":21.4},{"t":1305,"a":16,"b":20.2},{"t":1325,"a":16,"b":20.8},{"t":1360,"a":16,"b":21.6},{"t":1385,"a":16,"b":20.6},{"t":1415,"a":16,"b":21.2},{"t":1438,"a":16,"b":20.4}],
"s3":[{"t":11,"a":3.0,"b":0.9},{"t":25,"a":3.0,"b":0.9},{"t":38,"a":3.0,"b":0.9},{"t":59,"a":3.0,"b":0.9},{"t":84,"a":3.0,"b":0.9},{"t":96,"a":3.0,"b":0.9},{"t":109,"a":3.0,"b":0.9},{"t":130,"a":3.0,"b":0.9},{"t":149,"a":3.0,"b":0.9},{"t":161,"a":3.0,"b":0.9},{"t":177,"a":3.0,"b":0.9},{"t":198,"a":3.0,"b":0.9},{"t":211,"a":3.0,"b":0.9},{"t":236,"a":3.0,"b":0.9},{"t":254,"a":3.0,"b":0.9},{"t":273,"a":3.0,"b":0.9},{"t":291,"a":3.0,"b":0.9},{"t":304,"a":3.0,"b":0.9},{"t":329,"a":3.0,"b":0.9},{"t":338,"a":3.0,"b":0.9},{"t":347,"a":3.0,"b":0.9},{"t":357,"a":3.0,"b":0.9},{"t":372,"a":3.0,"b":0.9},{"t":397,"a":3.0,"b":0.9},{"t":416,"a":3.0,"b":0.9},{"t":434,"a":3.0,"b":0.9},{"t":456,"a":3.0,"b":0.9},{"t":471,"a":3.0,"b":0.9},{"t":490,"a":3.0,"b":0.9},{"t":502,"a":3.0,"b":0.9},{"t":527,"a":3.0,"b":0.9},{"t":546,"a":3.0,"b":0.9},{"t":564,"a":3.0,"b":0.9},{"t":583,"a":3.0,"b":0.9},{"t":595,"a":3.0,"b":0.9},{"t":614,"a":3.0,"b":0.9},{"t":633,"a":3.0,"b":0.9},{"t":648,"a":3.0,"b":0.9},{"t":688,"a":3.0,"b":0.9},{"t":720,"a":3.0,"b":0.9},{"t":780,"a":3.0,"b":0.9},{"t":808,"a":3.0,"b":0.9},{"t":817,"a":3.0,"b":0.9},{"t":867,"a":3.0,"b":0.9},{"t":901,"a":3.0,"b":0.9},{"t":923,"a":3.0,"b":0.9},{"t":966,"a":3.0,"b":0.9},{"t":1016,"a":3.0,"b":0.9},{"t":1053,"a":3.0,"b":0.9},{"t":1078,"a":3.0,"b":0.9},{"t":1084,"a":3.0,"b":0.9},{"t":1115,"a":3.0,"b":0.9},{"t":1152,"a":3.0,"b":0.9},{"t":1177,"a":3.0,"b":0.9},{"t":1189,"a":3.0,"b":0.9},{"t":1245,"a":3.0,"b":0.9},{"t":1264,"a":3.0,"b":0.9},{"t":1273,"a":3.0,"b":0.9},{"t":1313,"a":3.0,"b":0.9},{"t":1354,"a":3.0,"b":0.9},{"t":1357,"a":3.0,"b":0.9},{"t":1385,"a":3.0,"b":0.9},{"t":1419,"a":3.0,"b":0.9},
{"t":5,"a":3.0,"b":1.85},{"t":50,"a":3.0,"b":1.45},{"t":70,"a":3.0,"b":1.85},{"t":118,"a":3.0,"b":1.85},{"t":140,"a":3.0,"b":1.45},{"t":190,"a":3.0,"b":1.85},{"t":220,"a":3.0,"b":1.85},{"t":262,"a":3.0,"b":1.45},{"t":282,"a":3.0,"b":1.85},{"t":318,"a":3.0,"b":1.85},{"t":365,"a":3.0,"b":1.45},{"t":385,"a":3.0,"b":1.85},{"t":405,"a":3.0,"b":1.85},{"t":425,"a":3.0,"b":1.45},{"t":445,"a":3.0,"b":1.85},{"t":480,"a":3.0,"b":1.85},{"t":515,"a":3.0,"b":1.45},{"t":555,"a":3.0,"b":1.85},{"t":575,"a":3.0,"b":1.85},{"t":605,"a":3.0,"b":1.45},{"t":625,"a":3.0,"b":1.85},{"t":740,"a":3.0,"b":1.85},{"t":760,"a":3.0,"b":1.45},{"t":795,"a":3.0,"b":1.85},{"t":830,"a":3.0,"b":1.85},{"t":855,"a":3.0,"b":1.45},{"t":880,"a":3.0,"b":1.85},{"t":910,"a":3.0,"b":1.85},{"t":940,"a":3.0,"b":1.45},{"t":985,"a":3.0,"b":1.85},{"t":1000,"a":3.0,"b":1.85},{"t":1030,"a":3.0,"b":1.45},{"t":1040,"a":3.0,"b":1.85},{"t":1065,"a":3.0,"b":1.85},{"t":1100,"a":3.0,"b":1.45},{"t":1130,"a":3.0,"b":1.85},{"t":1165,"a":3.0,"b":1.85},{"t":1200,"a":3.0,"b":1.45},{"t":1220,"a":3.0,"b":1.85},{"t":1235,"a":3.0,"b":1.85},{"t":1290,"a":3.0,"b":1.45},{"t":1300,"a":3.0,"b":1.85},{"t":1330,"a":3.0,"b":1.85},{"t":1340,"a":3.0,"b":1.45},{"t":1370,"a":3.0,"b":1.85},{"t":1400,"a":3.0,"b":1.85},{"t":1430,"a":3.0,"b":1.45},
{"t":15,"a":3.0,"b":1.85},{"t":30,"a":3.0,"b":2.0},{"t":48,"a":3.0,"b":1.75},{"t":66,"a":3.0,"b":1.9},{"t":88,"a":3.0,"b":2.05},{"t":105,"a":3.0,"b":1.8},{"t":145,"a":3.0,"b":1.95},{"t":158,"a":3.0,"b":1.7},{"t":188,"a":3.0,"b":1.9},{"t":205,"a":3.0,"b":2.0},{"t":233,"a":3.0,"b":1.8},{"t":248,"a":3.0,"b":1.85},{"t":266,"a":3.0,"b":2.05},{"t":286,"a":3.0,"b":1.75},{"t":322,"a":3.0,"b":1.95},{"t":342,"a":3.0,"b":1.9},{"t":360,"a":3.0,"b":1.8},{"t":378,"a":3.0,"b":2.0},{"t":400,"a":3.0,"b":1.85},{"t":428,"a":3.0,"b":1.7},{"t":442,"a":3.0,"b":1.95},{"t":460,"a":3.0,"b":2.05},{"t":475,"a":3.0,"b":1.8},{"t":494,"a":3.0,"b":1.9},{"t":510,"a":3.0,"b":1.75},{"t":532,"a":3.0,"b":2.0},{"t":550,"a":3.0,"b":1.85},{"t":568,"a":3.0,"b":1.95},{"t":586,"a":3.0,"b":1.7},{"t":600,"a":3.0,"b":1.9},{"t":630,"a":3.0,"b":2.05},{"t":724,"a":3.0,"b":1.95},{"t":738,"a":3.0,"b":1.9},{"t":752,"a":3.0,"b":1.8},{"t":768,"a":3.0,"b":2.05},{"t":785,"a":3.0,"b":1.7},{"t":798,"a":3.0,"b":1.85},{"t":812,"a":3.0,"b":2.0},{"t":825,"a":3.0,"b":1.9},{"t":836,"a":3.0,"b":1.75},{"t":852,"a":3.0,"b":1.95},{"t":870,"a":3.0,"b":1.8},{"t":884,"a":3.0,"b":2.05},{"t":893,"a":3.0,"b":1.85},{"t":912,"a":3.0,"b":1.9},{"t":930,"a":3.0,"b":1.7},{"t":952,"a":3.0,"b":2.0},{"t":970,"a":3.0,"b":1.8},{"t":988,"a":3.0,"b":1.95},{"t":1012,"a":3.0,"b":1.85},{"t":1026,"a":3.0,"b":1.75},{"t":1050,"a":3.0,"b":2.05},{"t":1070,"a":3.0,"b":1.9},{"t":1090,"a":3.0,"b":1.8},{"t":1110,"a":3.0,"b":2.0},{"t":1135,"a":3.0,"b":1.85},{"t":1155,"a":3.0,"b":1.7},{"t":1172,"a":3.0,"b":1.95},{"t":1192,"a":3.0,"b":1.9},{"t":1210,"a":3.0,"b":2.05},{"t":1228,"a":3.0,"b":1.75},{"t":1250,"a":3.0,"b":1.85},{"t":1268,"a":3.0,"b":2.0},{"t":1292,"a":3.0,"b":1.8},{"t":1312,"a":3.0,"b":1.9},{"t":1326,"a":3.0,"b":1.95},{"t":1360,"a":3.0,"b":1.7},{"t":1374,"a":3.0,"b":2.05},{"t":1388,"a":3.0,"b":1.85},{"t":1407,"a":3.0,"b":1.8},{"t":1422,"a":3.0,"b":2.0},{"t":1434,"a":3.0,"b":1.9},
{"t":234,"a":7.0,"b":11.5},{"t":322,"a":7.0,"b":10.5},{"t":1124,"a":7.0,"b":11.2},{"t":1270,"a":7.0,"b":11.0},{"t":50,"a":7.0,"b":10.0},{"t":120,"a":7.0,"b":9.8},{"t":170,"a":7.0,"b":10.2},{"t":280,"a":7.0,"b":9.9},{"t":380,"a":7.0,"b":10.1},{"t":460,"a":7.0,"b":9.8},{"t":520,"a":7.0,"b":10.3},{"t":560,"a":7.0,"b":9.9},{"t":600,"a":7.0,"b":10.0},{"t":760,"a":7.0,"b":10.2},{"t":800,"a":7.0,"b":9.8},{"t":880,"a":7.0,"b":10.1},{"t":940,"a":7.0,"b":9.9},{"t":1000,"a":7.0,"b":10.3},{"t":1060,"a":7.0,"b":9.8},{"t":1180,"a":7.0,"b":10.0},{"t":1220,"a":7.0,"b":10.2},{"t":1330,"a":7.0,"b":9.9},{"t":1390,"a":7.0,"b":10.1},{"t":1430,"a":7.0,"b":10.4},
{"t":5,"a":7.0,"b":9.3},{"t":35,"a":7.0,"b":9.7},{"t":55,"a":7.0,"b":9.1},{"t":85,"a":7.0,"b":9.9},{"t":125,"a":7.0,"b":9.5},{"t":140,"a":7.0,"b":9.2},{"t":175,"a":7.0,"b":9.8},{"t":215,"a":7.0,"b":9.4},{"t":238,"a":7.0,"b":10.1},{"t":275,"a":7.0,"b":9.1},{"t":290,"a":7.0,"b":9.6},{"t":315,"a":7.0,"b":9.3},{"t":345,"a":7.0,"b":9.9},{"t":370,"a":7.0,"b":9.5},{"t":410,"a":7.0,"b":9.2},{"t":430,"a":7.0,"b":9.7},{"t":470,"a":7.0,"b":9.4},{"t":495,"a":7.0,"b":10.0},{"t":535,"a":7.0,"b":9.1},{"t":580,"a":7.0,"b":9.6},{"t":605,"a":7.0,"b":9.8},{"t":640,"a":7.0,"b":9.3},{"t":725,"a":7.0,"b":9.2},{"t":745,"a":7.0,"b":9.7},{"t":785,"a":7.0,"b":9.4},{"t":815,"a":7.0,"b":9.1},{"t":835,"a":7.0,"b":10.0},{"t":855,"a":7.0,"b":9.5},{"t":885,"a":7.0,"b":9.3},{"t":925,"a":7.0,"b":9.8},{"t":945,"a":7.0,"b":9.6},{"t":975,"a":7.0,"b":9.2},{"t":995,"a":7.0,"b":9.9},{"t":1030,"a":7.0,"b":9.4},{"t":1050,"a":7.0,"b":9.7},{"t":1090,"a":7.0,"b":9.1},{"t":1128,"a":7.0,"b":9.5},{"t":1165,"a":7.0,"b":10.1},{"t":1185,"a":7.0,"b":9.3},{"t":1230,"a":7.0,"b":9.6},{"t":1275,"a":7.0,"b":9.8},{"t":1305,"a":7.0,"b":9.2},{"t":1325,"a":7.0,"b":9.5},{"t":1360,"a":7.0,"b":9.9},{"t":1385,"a":7.0,"b":9.4},{"t":1415,"a":7.0,"b":9.7},{"t":1438,"a":7.0,"b":9.3}],
"s4":[{"t":31,"a":7.8,"b":4.5},{"t":47,"a":7.8,"b":4.5},{"t":187,"a":7.8,"b":4.7},{"t":220,"a":7.8,"b":4.5},{"t":241,"a":7.8,"b":3.4},{"t":335,"a":7.8,"b":5.0},{"t":427,"a":7.8,"b":2.4},{"t":533,"a":7.8,"b":5.0},{"t":611,"a":7.8,"b":4.7},{"t":620,"a":7.8,"b":4.5},{"t":704,"a":7.8,"b":4.0},{"t":799,"a":7.8,"b":4.0},{"t":835,"a":7.8,"b":3.8},{"t":911,"a":7.8,"b":3.4},{"t":1076,"a":7.8,"b":3.6},{"t":1124,"a":7.8,"b":2.9},{"t":1282,"a":7.8,"b":3.4},{"t":1375,"a":7.8,"b":4.2},{"t":1393,"a":7.8,"b":2.4},{"t":1421,"a":7.8,"b":4.0},
{"t":10,"a":7.8,"b":5.5},{"t":70,"a":7.8,"b":5.7},{"t":95,"a":7.8,"b":5.3},{"t":120,"a":7.8,"b":5.6},{"t":150,"a":7.8,"b":5.4},{"t":170,"a":7.8,"b":5.8},{"t":260,"a":7.8,"b":5.5},{"t":280,"a":7.8,"b":5.3},{"t":300,"a":7.8,"b":5.7},{"t":360,"a":7.8,"b":5.4},{"t":380,"a":7.8,"b":5.6},{"t":400,"a":7.8,"b":5.3},{"t":450,"a":7.8,"b":5.7},{"t":470,"a":7.8,"b":5.5},{"t":500,"a":7.8,"b":5.4},{"t":560,"a":7.8,"b":5.6},{"t":590,"a":7.8,"b":5.3},{"t":640,"a":7.8,"b":5.7},{"t":670,"a":7.8,"b":5.5},{"t":730,"a":7.8,"b":5.4},{"t":760,"a":7.8,"b":5.6},{"t":780,"a":7.8,"b":5.3},{"t":860,"a":7.8,"b":5.7},{"t":880,"a":7.8,"b":5.5},{"t":940,"a":7.8,"b":5.4},{"t":970,"a":7.8,"b":5.6},{"t":1000,"a":7.8,"b":5.3},{"t":1030,"a":7.8,"b":5.7},{"t":1050,"a":7.8,"b":5.5},{"t":1100,"a":7.8,"b":5.4},{"t":1150,"a":7.8,"b":5.6},{"t":1180,"a":7.8,"b":5.3},{"t":1210,"a":7.8,"b":5.7},{"t":1240,"a":7.8,"b":5.5},{"t":1260,"a":7.8,"b":5.4},{"t":1310,"a":7.8,"b":5.6},{"t":1340,"a":7.8,"b":5.3},{"t":1360,"a":7.8,"b":5.7},{"t":1410,"a":7.8,"b":5.5},{"t":1435,"a":7.8,"b":5.4},
{"t":15,"a":7.8,"b":5.6},{"t":30,"a":7.8,"b":5.9},{"t":48,"a":7.8,"b":5.4},{"t":66,"a":7.8,"b":5.7},{"t":88,"a":7.8,"b":6.0},{"t":105,"a":7.8,"b":5.5},{"t":140,"a":7.8,"b":5.8},{"t":158,"a":7.8,"b":5.3},{"t":188,"a":7.8,"b":5.7},{"t":205,"a":7.8,"b":5.9},{"t":233,"a":7.8,"b":5.5},{"t":248,"a":7.8,"b":5.6},{"t":262,"a":7.8,"b":6.0},{"t":282,"a":7.8,"b":5.4},{"t":320,"a":7.8,"b":5.8},{"t":340,"a":7.8,"b":5.7},{"t":358,"a":7.8,"b":5.5},{"t":378,"a":7.8,"b":5.9},{"t":400,"a":7.8,"b":5.6},{"t":425,"a":7.8,"b":5.3},{"t":442,"a":7.8,"b":5.8},{"t":458,"a":7.8,"b":6.0},{"t":475,"a":7.8,"b":5.5},{"t":492,"a":7.8,"b":5.7},{"t":510,"a":7.8,"b":5.4},{"t":530,"a":7.8,"b":5.9},{"t":548,"a":7.8,"b":5.6},{"t":565,"a":7.8,"b":5.8},{"t":582,"a":7.8,"b":5.3},{"t":600,"a":7.8,"b":5.7},{"t":630,"a":7.8,"b":6.0},{"t":652,"a":7.8,"b":5.5},{"t":670,"a":7.8,"b":5.9},{"t":688,"a":7.8,"b":5.6},{"t":702,"a":7.8,"b":5.4},{"t":720,"a":7.8,"b":5.8},{"t":738,"a":7.8,"b":5.7},{"t":752,"a":7.8,"b":5.5},{"t":768,"a":7.8,"b":6.0},{"t":783,"a":7.8,"b":5.3},{"t":798,"a":7.8,"b":5.6},{"t":812,"a":7.8,"b":5.9},{"t":825,"a":7.8,"b":5.7},{"t":836,"a":7.8,"b":5.4},{"t":852,"a":7.8,"b":5.8},{"t":868,"a":7.8,"b":5.5},{"t":882,"a":7.8,"b":6.0},{"t":893,"a":7.8,"b":5.6},{"t":910,"a":7.8,"b":5.7},{"t":930,"a":7.8,"b":5.3},{"t":952,"a":7.8,"b":5.9},{"t":970,"a":7.8,"b":5.5},{"t":988,"a":7.8,"b":5.8},{"t":1012,"a":7.8,"b":5.6},{"t":1030,"a":7.8,"b":5.4},{"t":1050,"a":7.8,"b":6.0},{"t":1070,"a":7.8,"b":5.7},{"t":1090,"a":7.8,"b":5.5},{"t":1110,"a":7.8,"b":5.9},{"t":1135,"a":7.8,"b":5.6},{"t":1155,"a":7.8,"b":5.3},{"t":1172,"a":7.8,"b":5.8},{"t":1190,"a":7.8,"b":5.7},{"t":1210,"a":7.8,"b":6.0},{"t":1232,"a":7.8,"b":5.4},{"t":1250,"a":7.8,"b":5.6},{"t":1270,"a":7.8,"b":5.9},{"t":1292,"a":7.8,"b":5.5},{"t":1312,"a":7.8,"b":5.7},{"t":1330,"a":7.8,"b":5.8},{"t":1358,"a":7.8,"b":5.3},{"t":1372,"a":7.8,"b":6.0},{"t":1385,"a":7.8,"b":5.6},{"t":1407,"a":7.8,"b":5.5},{"t":1420,"a":7.8,"b":5.9},{"t":1432,"a":7.8,"b":5.7},
{"t":108,"a":15,"b":22},{"t":304,"a":15,"b":20.5},{"t":411,"a":15,"b":23.5},{"t":1413,"a":15,"b":22},{"t":1425,"a":15,"b":21},{"t":40,"a":15,"b":19},{"t":160,"a":15,"b":19.5},{"t":230,"a":15,"b":18.8},{"t":350,"a":15,"b":19.2},{"t":480,"a":15,"b":19.6},{"t":560,"a":15,"b":18.9},{"t":620,"a":15,"b":19.3},{"t":700,"a":15,"b":19.0},{"t":760,"a":15,"b":19.4},{"t":830,"a":15,"b":18.8},{"t":900,"a":15,"b":19.5},{"t":980,"a":15,"b":19.1},{"t":1050,"a":15,"b":19.6},{"t":1120,"a":15,"b":19.0},{"t":1200,"a":15,"b":19.3},{"t":1280,"a":15,"b":18.9},{"t":1350,"a":15,"b":19.4},
{"t":5,"a":15,"b":17.6},{"t":35,"a":15,"b":18.0},{"t":50,"a":15,"b":17.4},{"t":85,"a":15,"b":18.2},{"t":125,"a":15,"b":17.8},{"t":140,"a":15,"b":17.5},{"t":175,"a":15,"b":18.1},{"t":215,"a":15,"b":17.7},{"t":235,"a":15,"b":18.4},{"t":275,"a":15,"b":17.4},{"t":290,"a":15,"b":17.9},{"t":315,"a":15,"b":17.6},{"t":345,"a":15,"b":18.2},{"t":370,"a":15,"b":17.8},{"t":410,"a":15,"b":17.5},{"t":430,"a":15,"b":18.0},{"t":470,"a":15,"b":17.7},{"t":495,"a":15,"b":18.3},{"t":535,"a":15,"b":17.4},{"t":580,"a":15,"b":17.9},{"t":600,"a":15,"b":18.1},{"t":640,"a":15,"b":17.6},{"t":665,"a":15,"b":17.8},{"t":705,"a":15,"b":18.2},{"t":725,"a":15,"b":17.5},{"t":745,"a":15,"b":18.0},{"t":785,"a":15,"b":17.7},{"t":815,"a":15,"b":17.4},{"t":835,"a":15,"b":18.3},{"t":855,"a":15,"b":17.8},{"t":885,"a":15,"b":17.6},{"t":925,"a":15,"b":18.1},{"t":940,"a":15,"b":17.9},{"t":975,"a":15,"b":17.5},{"t":995,"a":15,"b":18.2},{"t":1030,"a":15,"b":17.7},{"t":1050,"a":15,"b":18.0},{"t":1090,"a":15,"b":17.4},{"t":1125,"a":15,"b":17.8},{"t":1165,"a":15,"b":18.4},{"t":1185,"a":15,"b":17.6},{"t":1230,"a":15,"b":17.9},{"t":1270,"a":15,"b":18.1},{"t":1305,"a":15,"b":17.5},{"t":1325,"a":15,"b":17.8},{"t":1360,"a":15,"b":18.2},{"t":1385,"a":15,"b":17.7},{"t":1415,"a":15,"b":18.0},{"t":1438,"a":15,"b":17.6}]
},
"vconcat":[
{"width":774,"height":102,
 "layer":[
  {"data":{"name":"c1"},"mark":{"type":"area","color":"black","stroke":"black","strokeWidth":0.6,"interpolate":"step"},
   "encoding":{
    "x":{"field":"t","type":"quantitative","scale":{"domain":[0,1440],"nice":false,"zero":false},
      "axis":{"orient":"bottom","values":[0,30,60,90,120,150,180,210,240,270,300,330,360,390,420,450,480,510,540,570,600,630,660,690,720,750,780,810,840,870,900,930,960,990,1020,1050,1080,1110,1140,1170,1200,1230,1260,1290,1320,1350,1380,1410,1440],"labels":false,"title":null,"tickSize":{"condition":{"test":"datum.value % 120 === 0","value":-8},"value":-4}}},
    "y":{"field":"h","type":"quantitative","scale":{"type":"log","domain":[1,26.1],"nice":false,"clamp":true},
      "axis":{"orient":"left","values":[1,2,3,4,5,6,7,8,9,10,20],"tickSize":{"condition":{"test":"datum.value === 1 || datum.value === 10","value":-10},"value":-6},"labelExpr":"(datum.value === 1 || datum.value === 10) ? '' + datum.value : ''","labelFontSize":15,"labelPadding":15,"labelFlush":true,"labelOverlap":false,"title":null}},
    "y2":{"field":"l"},
    "detail":{"field":"g","type":"nominal"}}},
  {"data":{"name":"s1"},"mark":{"type":"rule","color":"black","strokeWidth":1},
   "encoding":{
    "x":{"field":"t","type":"quantitative","scale":{"domain":[0,1440],"nice":false,"zero":false},
      "axis":{"orient":"top","values":[0,30,60,90,120,150,180,210,240,270,300,330,360,390,420,450,480,510,540,570,600,630,660,690,720,750,780,810,840,870,900,930,960,990,1020,1050,1080,1110,1140,1170,1200,1230,1260,1290,1320,1350,1380,1410,1440],"labels":false,"title":null,"tickSize":{"condition":{"test":"datum.value % 120 === 0","value":-8},"value":-4}}},
    "y":{"field":"a","type":"quantitative","scale":{"type":"log","domain":[1,26.1],"nice":false,"clamp":true},
      "axis":{"orient":"right","values":[1,2,3,4,5,6,7,8,9,10,20],"tickSize":{"condition":{"test":"datum.value === 1 || datum.value === 10","value":-10},"value":-6},"labels":false,"title":"2 - 3 keV","titleAngle":270,"titleX":18,"titleY":51,"titleAlign":"center","titleBaseline":"middle","titleFontSize":20,"titleFontWeight":"normal"}},
    "y2":{"field":"b"}}}
 ],
 "resolve":{"axis":{"x":"independent","y":"independent"}}},
{"width":774,"height":101,
 "layer":[
  {"data":{"name":"c2"},"mark":{"type":"area","color":"black","stroke":"black","strokeWidth":0.6,"interpolate":"step"},
   "encoding":{
    "x":{"field":"t","type":"quantitative","scale":{"domain":[0,1440],"nice":false,"zero":false},
      "axis":{"orient":"bottom","values":[0,30,60,90,120,150,180,210,240,270,300,330,360,390,420,450,480,510,540,570,600,630,660,690,720,750,780,810,840,870,900,930,960,990,1020,1050,1080,1110,1140,1170,1200,1230,1260,1290,1320,1350,1380,1410,1440],"labels":false,"title":null,"tickSize":{"condition":{"test":"datum.value % 120 === 0","value":-8},"value":-4}}},
    "y":{"field":"h","type":"quantitative","scale":{"type":"log","domain":[2.02,51.1],"nice":false,"clamp":true},
      "axis":{"orient":"left","values":[3,4,5,6,7,8,9,10,20,30,40,50],"tickSize":{"condition":{"test":"datum.value === 10","value":-10},"value":-6},"labelExpr":"datum.value === 10 ? '10' : ''","labelFontSize":15,"labelPadding":15,"labelFlush":false,"labelOverlap":false,"title":"count rate","titleAngle":270,"titleX":-64,"titleY":79.5,"titleAlign":"center","titleBaseline":"middle","titleFontSize":26,"titleFontWeight":"normal"}},
    "y2":{"field":"l"},
    "detail":{"field":"g","type":"nominal"}}},
  {"data":{"name":"s2"},"mark":{"type":"rule","color":"black","strokeWidth":1},
   "encoding":{
    "x":{"field":"t","type":"quantitative","scale":{"domain":[0,1440],"nice":false,"zero":false},
      "axis":{"orient":"top","values":[0,30,60,90,120,150,180,210,240,270,300,330,360,390,420,450,480,510,540,570,600,630,660,690,720,750,780,810,840,870,900,930,960,990,1020,1050,1080,1110,1140,1170,1200,1230,1260,1290,1320,1350,1380,1410,1440],"labels":false,"title":null,"tickSize":{"condition":{"test":"datum.value % 120 === 0","value":-8},"value":-4}}},
    "y":{"field":"a","type":"quantitative","scale":{"type":"log","domain":[2.02,51.1],"nice":false,"clamp":true},
      "axis":{"orient":"right","values":[3,4,5,6,7,8,9,10,20,30,40,50],"tickSize":{"condition":{"test":"datum.value === 10","value":-10},"value":-6},"labels":false,"title":"3 - 5 keV","titleAngle":270,"titleX":18,"titleY":50.5,"titleAlign":"center","titleBaseline":"middle","titleFontSize":20,"titleFontWeight":"normal"}},
    "y2":{"field":"b"}}}
 ],
 "resolve":{"axis":{"x":"independent","y":"independent"}}},
{"width":774,"height":101,
 "layer":[
  {"data":{"name":"c3"},"mark":{"type":"area","color":"black","stroke":"black","strokeWidth":0.6,"interpolate":"step"},
   "encoding":{
    "x":{"field":"t","type":"quantitative","scale":{"domain":[0,1440],"nice":false,"zero":false},
      "axis":{"orient":"bottom","values":[0,30,60,90,120,150,180,210,240,270,300,330,360,390,420,450,480,510,540,570,600,630,660,690,720,750,780,810,840,870,900,930,960,990,1020,1050,1080,1110,1140,1170,1200,1230,1260,1290,1320,1350,1380,1410,1440],"labels":false,"title":null,"tickSize":{"condition":{"test":"datum.value % 120 === 0","value":-8},"value":-4}}},
    "y":{"field":"h","type":"quantitative","scale":{"type":"log","domain":[1,25.3],"nice":false,"clamp":true},
      "axis":{"orient":"left","values":[1,2,3,4,5,6,7,8,9,10,20],"tickSize":{"condition":{"test":"datum.value === 1 || datum.value === 10","value":-10},"value":-6},"labelExpr":"(datum.value === 1 || datum.value === 10) ? '' + datum.value : ''","labelFontSize":15,"labelPadding":15,"labelFlush":true,"labelOverlap":false,"title":null}},
    "y2":{"field":"l"},
    "detail":{"field":"g","type":"nominal"}}},
  {"data":{"name":"s3"},"mark":{"type":"rule","color":"black","strokeWidth":1},
   "encoding":{
    "x":{"field":"t","type":"quantitative","scale":{"domain":[0,1440],"nice":false,"zero":false},
      "axis":{"orient":"top","values":[0,30,60,90,120,150,180,210,240,270,300,330,360,390,420,450,480,510,540,570,600,630,660,690,720,750,780,810,840,870,900,930,960,990,1020,1050,1080,1110,1140,1170,1200,1230,1260,1290,1320,1350,1380,1410,1440],"labels":false,"title":null,"tickSize":{"condition":{"test":"datum.value % 120 === 0","value":-8},"value":-4}}},
    "y":{"field":"a","type":"quantitative","scale":{"type":"log","domain":[1,25.3],"nice":false,"clamp":true},
      "axis":{"orient":"right","values":[1,2,3,4,5,6,7,8,9,10,20],"tickSize":{"condition":{"test":"datum.value === 1 || datum.value === 10","value":-10},"value":-6},"labels":false,"title":"5 - 8 keV","titleAngle":270,"titleX":18,"titleY":50.5,"titleAlign":"center","titleBaseline":"middle","titleFontSize":20,"titleFontWeight":"normal"}},
    "y2":{"field":"b"}}}
 ],
 "resolve":{"axis":{"x":"independent","y":"independent"}}},
{"width":774,"height":101,
 "layer":[
  {"data":{"name":"c4"},"mark":{"type":"area","color":"black","stroke":"black","strokeWidth":0.6,"interpolate":"step"},
   "encoding":{
    "x":{"field":"t","type":"quantitative","scale":{"domain":[0,1440],"nice":false,"zero":false},
      "axis":{"orient":"bottom","values":[0,30,60,90,120,150,180,210,240,270,300,330,360,390,420,450,480,510,540,570,600,630,660,690,720,750,780,810,840,870,900,930,960,990,1020,1050,1080,1110,1140,1170,1200,1230,1260,1290,1320,1350,1380,1410,1440],"labels":true,"labelExpr":"datum.value % 120 === 0 ? ((datum.value < 600 ? '0' : '') + (datum.value / 60) + ':00') : ''","labelFontSize":16,"labelPadding":10,"labelFlush":false,"labelOverlap":false,"title":"time UT","titleFontSize":16,"titleFontWeight":"normal","titlePadding":7,"tickSize":{"condition":{"test":"datum.value % 120 === 0","value":-8},"value":-4}}},
    "y":{"field":"h","type":"quantitative","scale":{"type":"log","domain":[1.47,37.1],"nice":false,"clamp":true},
      "axis":{"orient":"left","values":[2,3,4,5,6,7,8,9,10,20,30],"tickSize":{"condition":{"test":"datum.value === 10","value":-10},"value":-6},"labelExpr":"datum.value === 10 ? '10' : ''","labelFontSize":15,"labelPadding":15,"labelFlush":false,"labelOverlap":false,"title":null}},
    "y2":{"field":"l"},
    "detail":{"field":"g","type":"nominal"}}},
  {"data":{"name":"s4"},"mark":{"type":"rule","color":"black","strokeWidth":1},
   "encoding":{
    "x":{"field":"t","type":"quantitative","scale":{"domain":[0,1440],"nice":false,"zero":false},
      "axis":{"orient":"top","values":[0,30,60,90,120,150,180,210,240,270,300,330,360,390,420,450,480,510,540,570,600,630,660,690,720,750,780,810,840,870,900,930,960,990,1020,1050,1080,1110,1140,1170,1200,1230,1260,1290,1320,1350,1380,1410,1440],"labels":false,"title":null,"tickSize":{"condition":{"test":"datum.value % 120 === 0","value":-8},"value":-4}}},
    "y":{"field":"a","type":"quantitative","scale":{"type":"log","domain":[1.47,37.1],"nice":false,"clamp":true},
      "axis":{"orient":"right","values":[2,3,4,5,6,7,8,9,10,20,30],"tickSize":{"condition":{"test":"datum.value === 10","value":-10},"value":-6},"labels":false,"title":"10 - 15 keV","titleAngle":270,"titleX":18,"titleY":50.5,"titleAlign":"center","titleBaseline":"middle","titleFontSize":19,"titleFontWeight":"normal"}},
    "y2":{"field":"b"}}}
 ],
 "resolve":{"axis":{"x":"independent","y":"independent"}}}
]
}
